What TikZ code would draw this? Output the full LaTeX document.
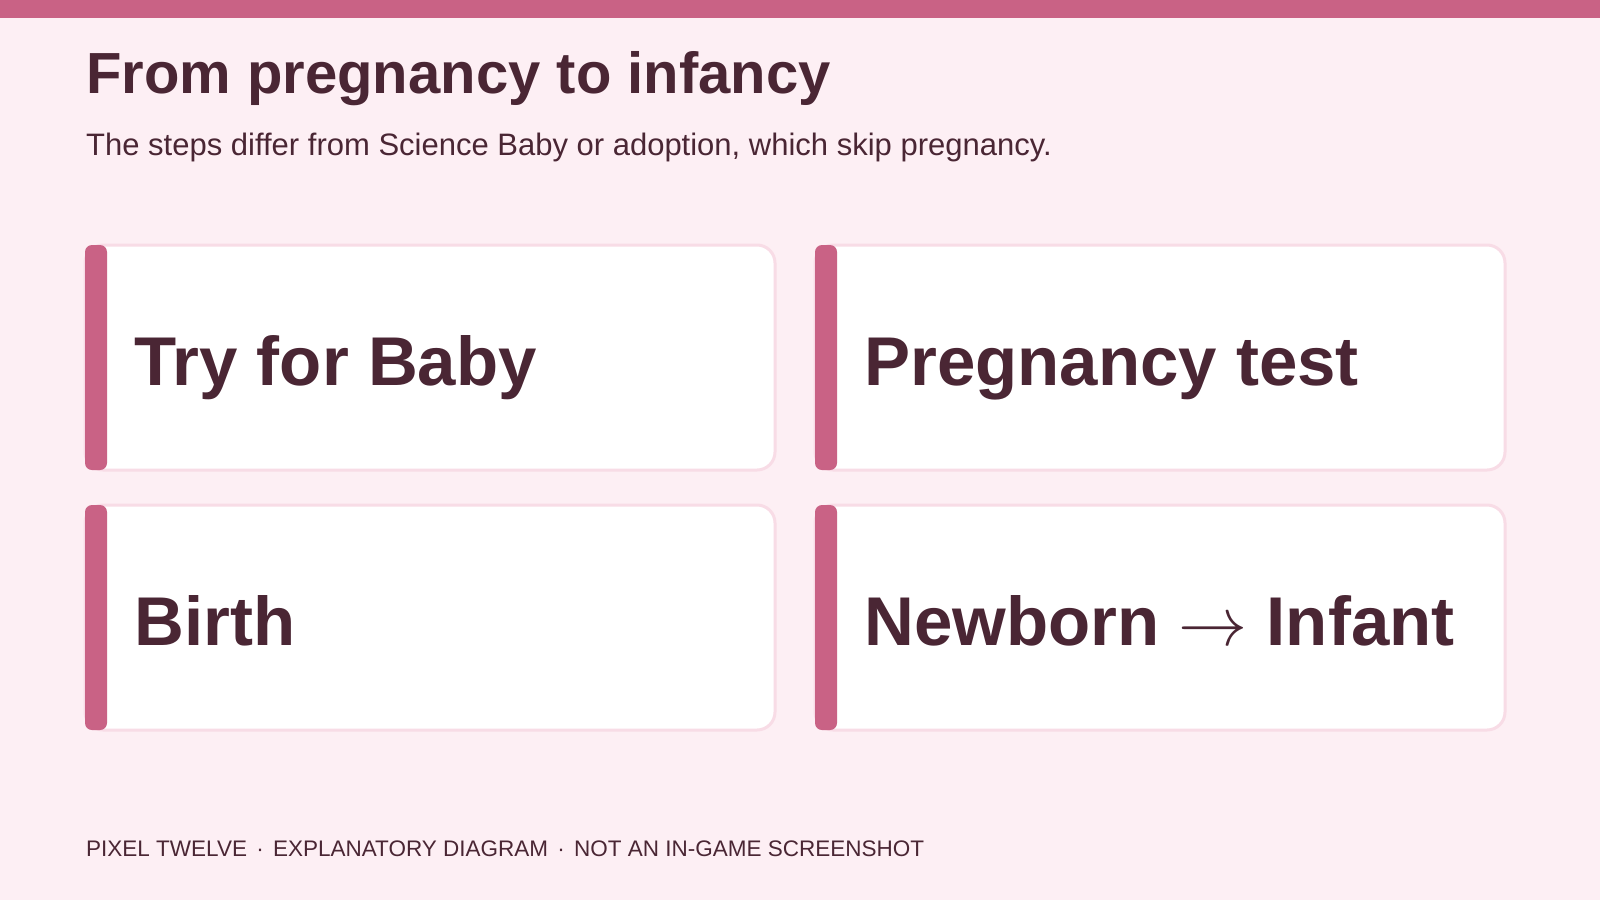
\RequirePackage{fix-cm}
\documentclass[tikz,border=0pt]{standalone}
\usepackage{fontspec}
\setmainfont{Liberation Sans}
\definecolor{bgpink}{HTML}{FDEFF4}
\definecolor{accent}{HTML}{C96285}
\definecolor{ink}{HTML}{4A2634}
\definecolor{cardline}{HTML}{F8DCE6}
\newcommand{\sepdot}{\hspace{3pt} · \hspace{3pt}}
\tikzset{
  card/.style={fill=white, draw=cardline, line width=3pt, rounded corners=18pt},
  accentbar/.style={fill=accent, rounded corners=7pt},
  cardtext/.style={anchor=base west, inner sep=0pt, text=ink, font=\fontsize{69}{80}\selectfont\bfseries},
}
\begin{document}
\begin{tikzpicture}[x=1pt,y=-1pt]
\useasboundingbox (0,0) rectangle (1600,900);
\fill[bgpink] (0,0) rectangle (1600,900);
\fill[accent] (0,0) rectangle (1600,18);
\node[anchor=base west, inner sep=0pt, text=ink, font=\fontsize{58}{66}\selectfont\bfseries] (title) at (86,93) {From pregnancy to infancy};
\node[anchor=base west, inner sep=0pt, text=ink, font=\fontsize{31}{36}\selectfont] (sub) at (86,155) {The steps differ from Science Baby or adoption, which skip pregnancy.};
% cards
\draw[card] (85,245) rectangle (775,470);
\draw[card] (815,245) rectangle (1505,470);
\draw[card] (85,505) rectangle (775,730);
\draw[card] (815,505) rectangle (1505,730);
\fill[accentbar] (85,245) rectangle (107,470);
\fill[accentbar] (815,245) rectangle (837,470);
\fill[accentbar] (85,505) rectangle (107,730);
\fill[accentbar] (815,505) rectangle (837,730);
\node[cardtext] (c1) at (134,385) {Try for Baby};
\node[cardtext] (c2) at (864,385) {Pregnancy test};
\node[cardtext] (c3) at (134,645) {Birth};
\node[cardtext] (c4) at (864,645) {Newborn $\rightarrow$ Infant};
\node[anchor=base west, inner sep=0pt, text=ink, font=\fontsize{22.5}{26}\selectfont] (foot) at (86,856) {PIXEL TWELVE\sepdot EXPLANATORY DIAGRAM\sepdot NOT AN IN-GAME SCREENSHOT};
\end{tikzpicture}
\end{document}
